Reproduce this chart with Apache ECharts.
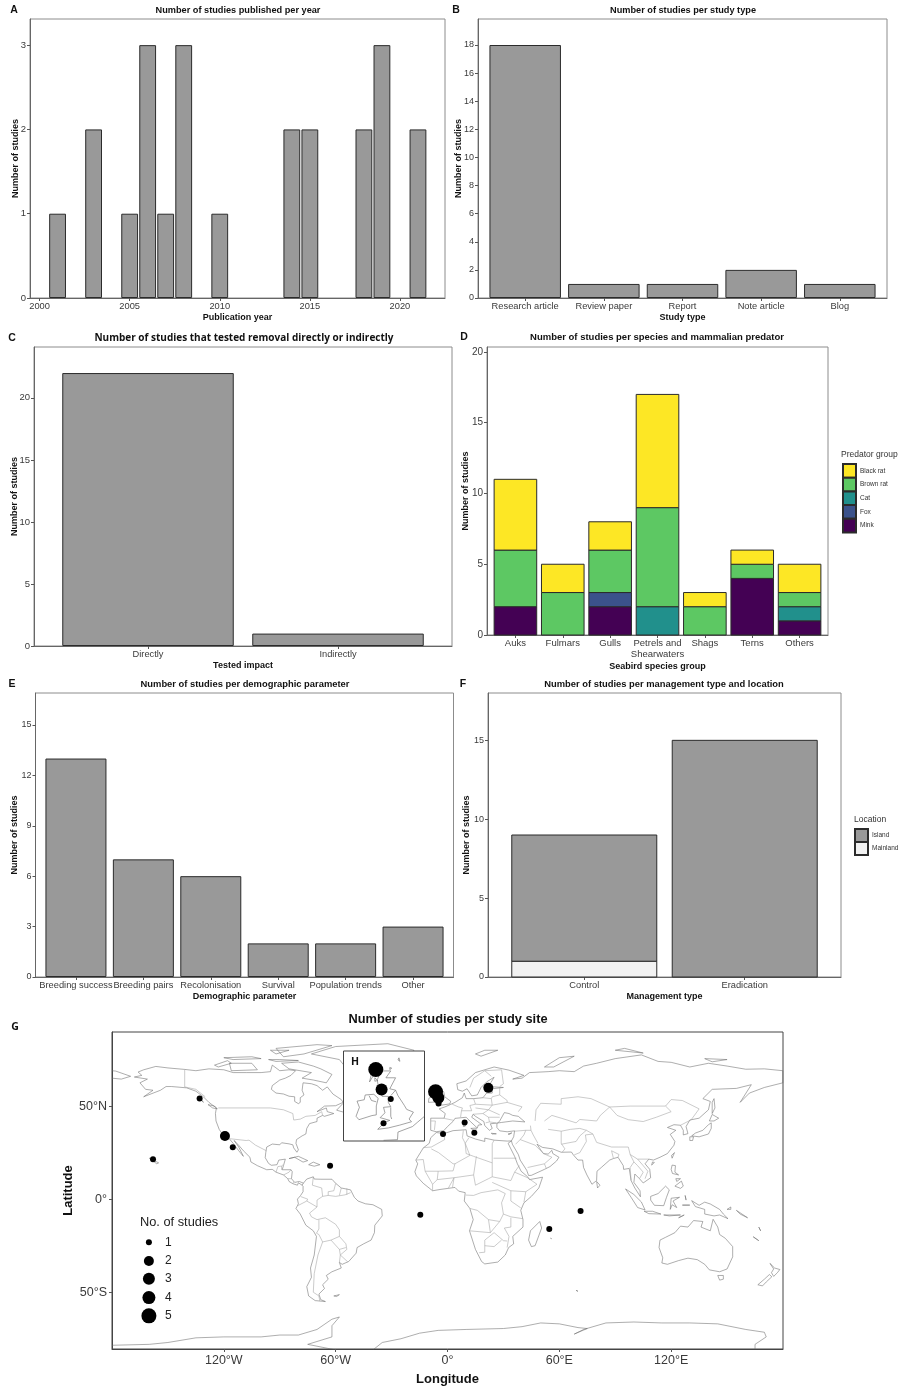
<!DOCTYPE html>
<html><head><meta charset="utf-8">
<script src="https://cdn.jsdelivr.net/npm/echarts@6/dist/echarts.min.js"></script>
<style>html,body{margin:0;padding:0;background:#fff}#c{width:907px;height:1387px}</style>
</head><body><div id="c"></div>
<script>
// ---------- Data ----------
const yearValues = [2001,2003,2005,2006,2007,2008,2010,2014,2015,2018,2019,2021];
const yearCounts = [1,2,1,3,1,3,1,2,2,2,3,2];
const yearTicks = [2000,2005,2010,2015,2020];

const studyTypes = ['Research article','Review paper','Report','Note article','Blog'];
const studyTypeCounts = [18,1,1,2,1];

const testedCats = ['Directly','Indirectly'];
const testedCounts = [22,1];

const seabirdGroups = ['Auks','Fulmars','Gulls','Petrels and\nShearwaters','Shags','Terns','Others'];
const mink = [2,0,2,0,0,4,1];
const fox = [0,0,1,0,0,0,0];
const cat = [0,0,0,2,0,0,1];
const brownRat = [4,3,3,7,2,1,1];
const blackRat = [5,2,2,8,1,1,2];

const demoParams = ['Breeding success','Breeding pairs','Recolonisation','Survival','Population trends','Other'];
const demoCounts = [13,7,6,2,2,3];

const mgmtTypes = ['Control','Eradication'];
const mainland = [1,0];
const island = [8,15];

const siteLon = [-133,-119.4,-115.2,-158,-63,-14.6,-6.4,-4.9,-4.8,-2.4,9.2,14.4,21.9,71.4,54.6];
const siteLat = [54.1,33.9,27.9,21.4,18,-8.4,57.7,54.5,51.4,35,41.2,35.7,59.8,-6.4,-16];
const siteStudies = [1,2,1,1,1,1,5,3,1,1,1,1,2,1,1];

const insetLon = [-6.1,-4.9,-3.0,-4.5];
const insetLat = [58.8,55.9,54.5,51.0];
const insetStudies = [5,3,1,1];

const keyStudies = [1,2,3,4,5];
const keyLon = [-160.2,-160.2,-160.2,-160.2,-160.2];
const keyLat = [-23.2,-33.2,-42.8,-52.9,-62.7];

const coastlines = [
 // North America, north and east coast
 [[-168,65.6],[-164,66.5],[-166,68.3],[-163,69.5],[-156.5,71.3],[-150,70.5],[-141,69.7],[-135,69],[-128,70],[-120,69.5],[-115,68],[-108,68],[-100,68],[-95,68.5],[-94,72],[-90,69],[-85,69.5],[-81.5,69],[-84,66.5],[-87,65],[-90,64],[-94,61],[-94.5,59],[-92,57],[-88,56.5],[-85,55.3],[-82,55],[-82,52.5],[-80,51.3],[-79,52],[-79,54.5],[-77,56],[-78,58.5],[-77.5,62.5],[-73,62],[-70,61],[-67,58.5],[-64.5,60.3],[-61.5,56.5],[-57,53.5],[-56,52],[-60,50.2],[-66,50],[-70,47],[-65,49],[-64.5,47],[-61,46],[-66,44.5],[-67,45],[-70,43.5],[-70,41.7],[-74,40.6],[-75.5,38],[-76,35],[-78,34],[-81,32],[-81.3,30],[-80,26.5],[-80.8,25.2],[-82.5,27.5],[-83,29.2],[-85,29.7],[-89,30.3],[-90,29.2],[-94,29.6],[-97,28],[-97.5,25],[-97.8,22.3],[-96,19.2],[-94.5,18.2],[-91.5,18.5],[-90.5,21],[-87,21.5],[-88,18],[-88.7,15.8],[-84,15.8],[-83.3,14.8],[-83.7,11],[-82,9],[-79.5,9.5],[-77.3,8.6]],
 // North America, west coast
 [[-168,65.6],[-161,64.5],[-165,62.5],[-162,59],[-158,58.5],[-163,55],[-154,58.5],[-151,60.5],[-148,60.5],[-140,59.8],[-135,58],[-131,55],[-128,52],[-124,49],[-124.5,46],[-124.2,42],[-122.5,37.5],[-120.5,34.5],[-117.2,32.6],[-115,30],[-112,26],[-109.5,23],[-112,28],[-114.5,31.5],[-112.5,29.5],[-109.5,26],[-106,22.5],[-105.5,20],[-102,18],[-97,15.8],[-94,16],[-92,14.5],[-88,13],[-85.7,11],[-85,9.5],[-83,8.3],[-80.5,7.5],[-80,8.8],[-78,7.5]],
 // South America
 [[-77.3,8.6],[-75.5,10.8],[-72,12],[-71.5,10.8],[-68,10.7],[-62,10.7],[-60,8.5],[-57,6],[-52,5],[-50,1],[-48,-1],[-44,-2.5],[-40,-3],[-35.3,-5.5],[-35,-9],[-39,-14],[-39.2,-18],[-41,-22],[-45,-24],[-48.5,-26],[-49,-29],[-53,-33.5],[-56.5,-35],[-58,-34],[-57,-37],[-62,-39],[-65,-41],[-64,-43],[-67,-46],[-66,-48],[-69,-51],[-68,-54],[-65.5,-55],[-71,-54.5],[-74.5,-52],[-75.5,-47],[-73,-42],[-73.5,-37],[-71.5,-30],[-70.3,-20],[-72,-17],[-76,-14],[-79,-8],[-81.3,-5],[-80,-2.5],[-80.5,0],[-78.8,2],[-77.5,4],[-77.5,7],[-78,7.5],[-77.3,8.6]],
 // Africa
 [[-6,35.8],[-2,35.2],[3,36.8],[10,37.3],[10.5,34],[15,32.3],[20,31],[20,32.8],[25,31.7],[32,31.2],[34.3,31.3],[32.5,30],[34,27],[36,23],[37.5,19],[39.5,15],[43,12],[44,10.5],[51,11.8],[49,6],[45,1.5],[41,-2],[39.3,-6],[40.5,-11],[40.5,-15],[35,-20],[35.5,-24],[32.8,-26],[31,-30],[27,-33.8],[20,-34.8],[18.3,-33.5],[15,-27],[11.8,-17],[13.8,-11],[12,-5],[9,-1],[9.5,3.5],[6,4.3],[4,6.3],[-4,5.2],[-8,4.5],[-13,8.5],[-16.7,12.5],[-17.5,14.7],[-16,19],[-17,21],[-13,27.5],[-9.8,30],[-9,33],[-6,35.8]],
 // Eurasia
 [[-9,37],[-6,36.2],[-2,36.8],[0,39],[3,41.8],[4,43.4],[7,43.7],[10,44],[12.5,41.5],[16,38.2],[16.5,39.8],[18.4,40],[16,41.8],[13,44],[13.7,45.6],[15,44.5],[19.5,41.7],[20,39.5],[22.5,37],[24,38],[23,40.5],[26,40.8],[29,41.2],[35,42],[41.5,41.5],[38,44.5],[35,45],[33,46],[30.5,46.5],[28,42],[26.5,40.5],[26.5,38.5],[28,36.7],[32,36.2],[36,36.7],[35.5,33.5],[34.3,31.3],[34.8,29.5],[38,24],[39,21],[42.5,15.5],[43.5,12.7],[45,12.8],[52,16],[55,17.5],[58.5,20.5],[59.8,22.5],[56.5,24.5],[56,26.2],[54,24.2],[51.5,24.5],[50,26.5],[48,29.5],[51,27.8],[56.5,27],[61,25.2],[66.5,25.3],[67.5,23.8],[70,21],[72.5,21],[73,17],[74.8,13],[77.5,8],[80,10],[80.2,15],[82.5,17],[87,21],[89,21.8],[91.5,22.5],[94.3,18],[94.5,16],[97.5,16.5],[98.5,10],[100.5,6],[103.5,1.3],[103.3,4.5],[100,9],[100.5,13.5],[103,11],[105,8.7],[109,11.5],[108.5,16],[106,19],[108,21.5],[110.5,21],[114,22.5],[118,24.5],[121.5,29],[122,31],[119.5,34.8],[122.5,37],[118,38.5],[121.5,40],[125,39.7],[126.5,37],[126.5,34.5],[129,35.2],[128,39],[130,42.5],[135,43.5],[140,48],[141,52.5],[137,54],[142,59],[155,59.5],[163,61.5],[157,52],[162,57],[170,60],[179.9,62.5]],
 [[179.9,69],[170,70],[160,69.8],[150,71.5],[140,73],[130,71],[120,73.5],[113,74],[104,77.5],[90,75.5],[80,73],[73,71.5],[68,68.5],[60,69],[54,68.5],[44,68],[40,65],[35,64.5],[41,66.5],[33,69.3],[25,71],[15,68],[10,63.5],[5,62],[5.5,58.8],[8,58],[10.5,59.3],[13,55.5],[16,56],[18,60],[21,63],[25,65.5],[22,60.5],[30,60],[24,59.3],[24,57],[21,57],[19,54.5],[14,54],[10,54],[9,57],[8,54.5],[4,52],[1.5,50.8],[-1.5,49.5],[-4.5,48.5],[-1.2,46],[-1.8,43.5],[-9,43.5],[-9,37]],
 [[-180,65],[-175,64.5],[-170,66],[-178,68.8],[-180,69]],
 [[179.9,62.5],[179.9,65],[179.9,69]],
 // Australia and Pacific
 [[114,-22],[113.5,-26],[115.5,-31.5],[115,-34.3],[118,-35],[124,-33],[129,-31.7],[134,-32.5],[138,-35],[140.5,-38],[146,-39],[150,-37.5],[153,-31],[153,-25.5],[149,-21],[146,-19],[145,-15],[142.5,-10.8],[141,-17],[136,-15],[137,-12],[132,-11.5],[129,-15],[125,-14.5],[122,-18],[117,-20.5],[114,-22]],
 [[145,-41],[148,-41],[148,-43],[146,-43.5],[145,-41]],
 [[173,-34.5],[175.5,-37],[178.3,-37.8],[177,-39.5],[175,-41.5],[173.8,-39.5],[175,-37.5],[173,-34.5]],
 [[172.7,-40.5],[174,-41.7],[171,-44.5],[169,-46.6],[166.5,-46],[170,-43],[172.7,-40.5]],
 [[131,-0.8],[135,-3.3],[138,-1.6],[141,-2.6],[146,-5.5],[148,-8],[150.5,-10.5],[146,-8.5],[143,-9],[138,-8],[138,-5.5],[133,-4],[131,-0.8]],
 [[150,-5.5],[152,-4.2],[152,-5.5],[150,-5.5]],[[155,-6],[157,-8],[161,-10],[155,-6]],[[167,-15],[168,-17],[167,-15]],[[164,-20.2],[167,-22.3],[164,-20.2]],
 // Asian islands
 [[95.5,5.5],[100,2.5],[104,-1.5],[106,-5.8],[102,-4.5],[98.5,1],[95.5,5.5]],
 [[105.5,-6.5],[110,-6.5],[114.5,-8],[108,-7.8],[105.5,-6.5]],
 [[116,-8.5],[120,-8.5],[125,-8.5],[119,-9],[116,-8.5]],[[124,-10],[127,-8.5],[124,-10]],
 [[109,1.5],[113,3],[117,7],[119,5],[117.5,1],[116,-3.5],[111,-3.3],[109,-0.5],[109,1.5]],
 [[119.5,-5.5],[120,0.5],[124.5,1],[121,-1],[123,-4.5],[120.5,-3],[119.5,-5.5]],
 [[127.5,2],[128,-0.5],[127.5,2]],[[126,-3.2],[130,-3.2],[126,-3.2]],
 [[120.5,18.3],[122.3,18],[122,14.5],[124,13],[120.7,13.8],[120,16],[120.5,18.3]],
 [[122,7],[125.5,9.7],[126.5,7],[125,5.8],[122,7]],[[122.5,11],[125,11],[123,9.5],[122.5,11]],
 [[120.5,22],[121.8,25],[120.2,23.5],[120.5,22]],
 [[130,31.5],[131.5,31.5],[132,33.5],[130,33.5],[130,31.5]],
 [[131,34],[135,33.5],[140,35],[141.5,38],[141.5,41],[140,40],[137,37],[133,35.5],[131,34]],
 [[140.5,42],[143,42],[145.5,43.5],[142,45.5],[140.5,42]],
 [[142,46],[143.5,49],[143,54],[142,52],[142,46]],
 [[80,9.5],[81.8,7.5],[80.5,6],[80,9.5]],
 [[110,20],[111,19.7],[109.5,18.3],[110,20]],
 [[49.5,-12],[50.5,-15.5],[47,-25],[45,-25.5],[43.5,-22],[44.5,-17],[49.5,-12]],
 [[55.3,-21],[55.8,-21.2],[55.3,-21]],[[69,-49],[70,-49.5],[69,-49]],
 // Europe, Atlantic and Arctic islands
 [[-24,65.5],[-15,66.2],[-14,64.8],[-20,63.5],[-22.5,64],[-24,65.5]],
 [[-5.7,50.1],[1.3,51.2],[1.7,52.6],[-1.5,55],[-2,57.6],[-3,58.6],[-5,58.6],[-5,55.5],[-3,53.4],[-5.2,51.8],[-5.7,50.1]],
 [[-6,52.2],[-5.6,54.6],[-8.3,55.1],[-10,54.2],[-10.2,52],[-6,52.2]],
 [[15,78],[20,80],[27,80],[18,76.8],[15,78]],
 [[52,71],[57,71],[68,76.8],[60,76],[52,71]],
 [[90,80],[100,79],[105,78.5],[95,81],[90,80]],[[138,75.5],[150,75],[142,73.8],[138,75.5]],
 [[8.5,41],[9.7,40.5],[9.5,39.2],[8.5,39],[8.5,41]],
 [[12.5,38],[15.5,38.2],[15,36.7],[12.5,38]],
 [[23.5,35.4],[26.2,35.1],[24,35],[23.5,35.4]],
 [[32.5,35],[34.5,35.6],[33,34.7],[32.5,35]],
 // Caribbean and Atlantic Canada
 [[-85,21.8],[-80,23],[-75,20.7],[-77.5,19.9],[-82,22.5],[-85,21.8]],
 [[-74.5,18.5],[-72,19.9],[-68.5,18.5],[-71.5,17.7],[-74.5,18.5]],
 [[-59.5,47.8],[-56,51.5],[-53,47],[-56,46.8],[-59.5,47.8]],
 [[-128.5,50.8],[-125,50],[-123.5,48.5],[-126,49],[-128.5,50.8]],
 [[-133,54],[-131.5,53],[-131,52],[-133,54]],
 [[-61,-52],[-58,-51.3],[-59.5,-52.3],[-61,-52]],
 [[-160,22],[-155,19.5],[-156,19],[-160,22]],
 // Canadian Arctic
 [[-80,73.7],[-72,71.5],[-68,70],[-62,67],[-65,62.5],[-72,64],[-78,65],[-73,68],[-85,70],[-89,73],[-80,73.7]],
 [[-117,73],[-105,73],[-102,69.5],[-116,69],[-117,73]],
 [[-125,72],[-118,74.4],[-116,73],[-123,71],[-125,72]],
 [[-92,81],[-70,83],[-62,82.5],[-77,78],[-88,76.5],[-92,81]],
 [[-96,75],[-90,75],[-80,74.5],[-92,74],[-96,75]],
 [[-120,76],[-105,76.5],[-100,75.5],[-115,75],[-120,76]],
 [[-95,80],[-85,80],[-92,78],[-95,80]],
 // Greenland
 [[-73,78],[-60,82],[-32,83.5],[-18,80],[-22,72],[-32,68],[-42,65],[-44,60],[-51,63],[-54,70],[-58,75],[-73,78]],
 // Antarctica
 [[-180,-78.5],[-160,-78],[-150,-77],[-135,-74.5],[-120,-74],[-100,-74],[-90,-73],[-80,-73],[-70,-70],[-62,-64.5],[-58,-63.3],[-62,-68],[-62,-74],[-75,-78],[-60,-81]],
 [[-40,-81],[-35,-77],[-25,-75],[-15,-72],[-5,-70.5],[10,-70],[30,-69.5],[40,-68.5],[50,-66.5],[60,-67],[70,-69],[75,-69.5],[68,-72.5],[73,-70],[85,-66.5],[100,-66],[115,-66.5],[130,-66.5],[145,-67],[160,-70],[170,-71.5],[171,-74],[165,-78],[165,-81]],
];

const borders = [
 [[-141,69.7],[-141,60.3],[-135,59],[-130,55]],
 [[-123,49],[-95,49],[-88,48],[-83,46],[-82.5,42.5],[-79,43],[-76,44.5],[-71,45],[-67.5,47],[-67,45]],
 [[-117,32.5],[-108,31.5],[-106.5,31.7],[-103,29],[-97.2,26]],
 [[-92,14.5],[-91,17.5],[-89,17.8],[-88.2,18.5]],
 [[-89,17.8],[-89,15.8]],[[-88,13],[-85,14.5],[-84,15.8]],[[-85.7,11],[-83.7,11]],[[-83,8.3],[-82.5,9.5]],
 [[-72,12],[-72.5,7.5],[-67.5,6],[-67,1.5]],
 [[-60,8.5],[-61,4.5],[-64,4],[-64,2]],
 [[-52,3.5],[-55,2.3],[-60,1.5],[-64,2],[-67,1.5],[-70,-0.5],[-70,-4.2],[-74,-7.5],[-73,-9.5],[-70,-11],[-65.5,-10],[-60,-13.5],[-58,-16.5],[-58,-20],[-54.5,-24],[-54,-27],[-57.5,-30],[-53.5,-33.7]],
 [[-80.3,-3.5],[-75.5,-1],[-70,-4.2]],[[-78.8,1.4],[-75,0],[-75.5,-1]],
 [[-69,-11],[-69,-16],[-70.3,-18.3],[-69,-19],[-67,-23],[-69.5,-30],[-71.5,-40],[-72,-50],[-69,-52],[-68.5,-54.8]],
 [[-67,-23],[-62.5,-22],[-58,-20]],[[-62.5,-22],[-58,-27],[-54.5,-26]],[[-58,-27],[-57.5,-30],[-58,-34]],
 [[-57,6],[-58,2]],[[-54,2.3],[-54,5.8]],
 [[-2,35],[-1.5,32],[-8.7,28],[-13,27.7]],
 [[-8.7,27],[-4.8,25],[3,19],[4,19],[12,23.5],[9.5,30],[8,33],[8.5,36.9]],
 [[11.5,33],[9.5,30],[10,24.5],[14,23],[24,19.5],[24,29.8],[25,31.7]],
 [[24.7,22],[37,22]],
 [[24,19.5],[24,12],[22,11],[15,7.5],[14,13],[15.5,23]],
 [[3.5,11.5],[14,13]],[[2.7,6.3],[3.5,11.5]],
 [[-12,15],[-5,15],[3,15.2],[4,19]],[[-17,21],[-13,21.3],[-12,15]],
 [[-5.5,10.5],[-5,15]],[[-8,8],[-5.5,10.5],[3.5,11.5],[0.5,6]],[[-8,4.5],[-8,8],[-12,15]],
 [[24,12],[34,10],[36,14.5],[38.5,18]],[[24,9],[34,4.5],[42,4]],
 [[36,14.5],[43,11.5],[48,8],[42,4],[41,-1.7]],
 [[12,-5],[16,-6],[22,-11],[28,-12],[30,-8],[29,-2],[31,3],[27,5],[18,3.5],[14,2],[9.8,2.2]],
 [[34,4.5],[34,-1],[39.3,-4.7]],[[30,-8],[34,-9.5],[40.5,-10.5]],
 [[11.8,-17],[23,-18],[22,-11]],[[17,-28.8],[20,-28.5],[20,-22],[25,-18]],
 [[34,-10],[34,-15],[30.5,-15.5],[33,-20],[32,-26]],[[25,-18],[30,-22.3],[32,-22.5]],[[20,-25],[25,-25.5],[29,-22]],[[23,-18],[28,-12]],
 [[47,42],[47.5,48],[50,51.5],[61,51],[61,54],[70,55],[77,54],[87,49.5],[98,50],[107,50],[117,50],[120,53.5],[126,53],[135,48.5],[131,43],[130.5,42.5]],
 [[87,49.5],[91,45],[97,42.7],[105,41.7],[112,44],[120,47],[117,50]],
 [[52,42],[56,45],[61,43.5],[69,41],[71,42.8],[80,42],[82,45],[87,49.5]],
 [[44.5,39.5],[44.8,37],[46,34.5],[48.5,30]],[[36,36.5],[42,37],[44.8,37]],[[42,37],[41,34.5],[39,32],[47,29]],
 [[36.5,29.5],[39,32]],[[47,29],[51.5,24.5],[56,22.5],[52,19],[53,16.5]],[[43,17],[52,19]],
 [[54,37.5],[61,36.5],[61,30],[63,27],[61.5,25.2]],
 [[61,36.5],[66,37.5],[71,38],[74.5,37],[71,34],[69,31],[61,29.5]],
 [[68,23.8],[71,25],[74.5,31],[74,34.5],[78,35]],
 [[74.5,37],[78,35],[80,30.5],[88,28],[92,28],[97,28],[98,24],[102,21.5],[108,21.5]],
 [[98,24],[100,20],[98,17],[98.5,10]],[[100,20],[102,18],[105,14.5],[103,11]],[[102,21.5],[105,18],[107.5,15],[106,11]],
 [[88,26],[89,22]],[[88,26],[92,24],[91.5,22.5]],[[125,39.7],[130.5,42.5]],
 [[-1.8,43.4],[3,42.4]],[[-8.8,42],[-6.5,42],[-7,37.2]],
 [[2.5,51],[6,49.5],[8,49],[7.5,47.5],[7,44]],[[14,54],[15,51],[12,50.3],[13,47.5],[7.5,47.5]],
 [[19,54.5],[23.5,54],[24,50.5],[15,51]],[[24,50.5],[22,48],[28,45.3]],[[24,50.5],[32,52],[40,49.6],[38,47]],
 [[28,60],[28,56],[24,55],[23.5,54]],[[28,56],[32,53],[32,52]],
 [[23.5,66],[20,69],[29,69.5],[30,62],[28,60.5]],[[12,60],[14,65],[20,69]],
 [[13.7,45.6],[19,46],[22,44],[28,44]],[[22,44],[22.5,41.5],[20.5,41]],[[26,41],[22.5,41.5]],[[22,48],[19,46]],[[15,49],[22,48]],
];

const insetCoast = [
 [[-5.7,50.1],[-3.5,50.3],[-1.2,50.7],[1.3,51.2],[0.8,51.6],[1.7,52.6],[0.3,53],[-0.2,53.6],[-1.5,55],[-2,55.8],[-3.2,56],[-2,57.6],[-4,57.6],[-3,58.6],[-5,58.6],[-5.8,57.3],[-5.5,56],[-5,55.5],[-4.8,54.9],[-3.5,54.9],[-3.5,54],[-3,53.4],[-4.5,53.3],[-4.2,52.5],[-5.2,51.8],[-3.2,51.4],[-4.3,51.1],[-5.7,50.1]],
 [[-6,52.2],[-6,53.5],[-5.6,54.6],[-6.5,55.2],[-8.3,55.1],[-8.5,54.4],[-10,54.2],[-9.5,53.3],[-10.2,52],[-9.6,51.5],[-6.9,52.1],[-6,52.2]],
 [[-7.5,55],[-7,54.3],[-6,54.1]],[[-3,53.3],[-3,52],[-2.8,51.6]],[[-3,55],[-2,55.8]],
 [[-7.4,57],[-6.2,58.4],[-7,58.2],[-7.4,57]],[[-6.3,57.6],[-5.7,57.2],[-6.3,57.1],[-6.3,57.6]],
 [[-3.2,59.1],[-2.8,59],[-3.2,58.8],[-3.2,59.1]],[[-1.3,60.5],[-1.1,60],[-1.5,60.2],[-1.3,60.5]],
 [[-4.5,48.5],[-1.6,48.6],[-1.5,49.7],[1.5,50.5],[2.5,51.1],[4,52]],
];

// ---------- Look ----------
const barFill = '#999999';
const barEdge = '#2b2b2b';
const sans = '"Liberation Sans", Arial, sans-serif';
const pxBySize = {1:6,2:10,3:12,4:13,5:15};
const labelCol = '#3a3a3a';

const tickStyle = {show:true,length:3,lineStyle:{color:'#555',width:1}};

function xAxisFor(gi,opt){
  return {gridIndex:gi,type:'value',min:opt.min,max:opt.max,
    name:opt.name,nameLocation:'middle',nameGap:opt.nameGap||15,nameMoveOverlap:false,
    nameTextStyle:{fontFamily:sans,fontWeight:'bold',fontSize:opt.nameSize||9,color:'#111'},
    splitLine:{show:false},
    axisLine:{show:true,onZero:false,lineStyle:{color:'#666',width:1}},
    axisTick:Object.assign({},tickStyle,{customValues:opt.ticks}),
    axisLabel:{customValues:opt.ticks,formatter:opt.fmt,margin:opt.margin||3,lineHeight:opt.lh||11,
      fontFamily:sans,fontSize:opt.size||9.3,color:labelCol,hideOverlap:false,showMinLabel:true,showMaxLabel:true}};
}
function yAxisFor(gi,opt){
  return {gridIndex:gi,type:'value',min:opt.min||0,max:opt.max,
    name:opt.name===undefined?'Number of studies':opt.name,nameLocation:'middle',nameGap:opt.nameGap,nameMoveOverlap:false,
    nameTextStyle:{fontFamily:sans,fontWeight:'bold',fontSize:opt.nameSize||9,color:'#111'},
    splitLine:{show:false},
    axisLine:{show:true,onZero:false,lineStyle:{color:'#666',width:1}},
    axisTick:Object.assign({},tickStyle,{customValues:opt.ticks}),
    axisLabel:{customValues:opt.ticks,formatter:opt.fmt,margin:opt.margin||4,fontFamily:sans,fontSize:opt.size||9.5,color:labelCol,showMinLabel:true,showMaxLabel:true}};
}
function gridBox(l,t,r,b){return {left:l,top:t,width:r-l,height:b-t,show:true,borderColor:'#8c8c8c',borderWidth:1,backgroundColor:'#fff'};}
function barSeries(gi,name,xs,ys,w,fill){
  return {type:'bar',name:name,xAxisIndex:gi,yAxisIndex:gi,barWidth:w,silent:true,
    data:xs.map((x,i)=>[x,ys[i]]),itemStyle:{color:fill,borderColor:barEdge,borderWidth:1}};
}
// Stacked bars on a numeric band axis: each segment is [position, base, top]
function stackedLayers(gi,xs,layers,w){
  const base=xs.map(()=>0);
  return layers.map(l=>{
    const data=xs.map((x,i)=>{const d=[x,base[i],base[i]+l.values[i]];base[i]+=l.values[i];return d;});
    return {type:'custom',name:l.name,xAxisIndex:gi,yAxisIndex:gi,silent:true,data:data,encode:{x:0,y:[1,2]},
      itemStyle:{color:l.fill,borderColor:barEdge,borderWidth:1},
      renderItem:(p,api)=>{
        const x=api.value(0),lo=api.value(1),hi=api.value(2);
        if(hi<=lo) return null;
        const a=api.coord([x,lo]),b=api.coord([x,hi]);
        return {type:'rect',shape:{x:a[0]-w/2,y:b[1],width:w,height:a[1]-b[1]},
          style:{fill:l.fill,stroke:barEdge,lineWidth:1}};
      }};
  });
}
const idx = arr => arr.map((_,i)=>i+1);
const catFmt = arr => v => arr[Math.round(v)-1] || '';
function txt(text,x,y,size,opts){
  opts=opts||{};
  return {text:text,left:x,top:y,padding:0,textAlign:opts.align||'center',textVerticalAlign:'middle',
    textStyle:{fontFamily:opts.font||sans,fontWeight:opts.weight||'bold',fontSize:size,color:opts.color||'#111'}};
}

const grids=[gridBox(30,19,445,298),gridBox(478,19,887,298),gridBox(34,347,452,646),gridBox(487,347,828,635),gridBox(35.5,693,453.5,977),gridBox(488,693,841,977),
  {left:112,top:1032,width:671,height:318,show:true,borderColor:'#444',borderWidth:1,backgroundColor:'#fff'},
  {left:343.5,top:1051,width:81,height:90,show:true,borderColor:'#444',borderWidth:1,backgroundColor:'#fff',z:10}];

const xAxes=[
  xAxisFor(0,{min:1999.47,max:2022.5,ticks:yearTicks,name:'Publication year',fmt:v=>String(v)}),
  xAxisFor(1,{min:0.4,max:5.6,ticks:idx(studyTypes),name:'Study type',fmt:catFmt(studyTypes)}),
  xAxisFor(2,{min:0.4,max:2.6,ticks:idx(testedCats),name:'Tested impact',fmt:catFmt(testedCats)}),
  xAxisFor(3,{min:0.4,max:7.6,ticks:idx(seabirdGroups),name:'Seabird species group',nameGap:27,fmt:catFmt(seabirdGroups),size:9.5}),
  xAxisFor(4,{min:0.4,max:6.6,ticks:idx(demoParams),name:'Demographic parameter',fmt:catFmt(demoParams)}),
  xAxisFor(5,{min:0.4,max:2.6,ticks:idx(mgmtTypes),name:'Management type',fmt:catFmt(mgmtTypes)}),
  xAxisFor(6,{min:-180,max:180,ticks:[-120,-60,0,60,120],name:'Longitude',nameGap:24,nameSize:13,size:12.5,margin:6,
     fmt:v=>v===0?'0°':(Math.abs(v)+'°'+(v<0?'W':'E'))}),
  {gridIndex:7,type:'value',min:-12.8,max:4,show:false,z:11},
];
xAxes[6].axisLine.lineStyle.color='#444';
const yAxes=[
  yAxisFor(0,{max:3.31,ticks:[0,1,2,3],nameGap:10}),
  yAxisFor(1,{max:19.85,ticks:[0,2,4,6,8,10,12,14,16,18],nameGap:15,size:9}),
  yAxisFor(2,{max:24.1,ticks:[0,5,10,15,20],nameGap:15}),
  yAxisFor(3,{max:20.35,ticks:[0,5,10,15,20],nameGap:17,size:10}),
  yAxisFor(4,{max:16.9,ticks:[0,3,6,9,12,15],nameGap:16.5,size:9}),
  yAxisFor(5,{max:18,ticks:[0,5,10,15],nameGap:17,size:9}),
  yAxisFor(6,{min:-80.5,max:89.8,ticks:[-50,0,50],name:'Latitude',nameGap:37,nameSize:13,size:12.5,margin:5,fmt:v=>v===0?'0°':(Math.abs(v)+'°'+(v<0?'S':'N'))}),
  {gridIndex:7,type:'value',min:48.4,max:61.5,show:false,z:11},
];
yAxes[6].axisLine.lineStyle.color='#444';

const siteSeries=(gi,lon,lat,studies,z)=>({type:'scatter',xAxisIndex:gi,yAxisIndex:gi,silent:true,z:z,
  data:lon.map((v,i)=>[v,lat[i],studies[i]]),symbolSize:d=>pxBySize[d[2]],itemStyle:{color:'#000',opacity:1}});

const keySeries=siteSeries(6,keyLon,keyLat,keyStudies,4);
keySeries.data=keySeries.data.map(d=>({value:d,label:{distance:16-pxBySize[d[2]]/2}}));
keySeries.label={show:true,position:'right',formatter:p=>String(p.value[2]),fontFamily:sans,fontSize:12,color:'#222'};

const series=[
  barSeries(0,'years',yearValues,yearCounts,16.8,barFill),
  barSeries(1,'types',idx(studyTypes),studyTypeCounts,71.5,barFill),
  barSeries(2,'tested',idx(testedCats),testedCounts,171.5,barFill),
  ...stackedLayers(3,idx(seabirdGroups),[
    {name:'Mink',values:mink,fill:'#440154'},
    {name:'Fox',values:fox,fill:'#3b528b'},
    {name:'Cat',values:cat,fill:'#21908c'},
    {name:'Brown rat',values:brownRat,fill:'#5dc863'},
    {name:'Black rat',values:blackRat,fill:'#fde725'}],42.6),
  barSeries(4,'demo',idx(demoParams),demoCounts,61,barFill),
  ...stackedLayers(5,idx(mgmtTypes),[
    {name:'Mainland',values:mainland,fill:'#f2f2f2'},
    {name:'Island',values:island,fill:barFill}],145),
  {type:'lines',coordinateSystem:'cartesian2d',xAxisIndex:6,yAxisIndex:6,polyline:true,silent:true,z:2,
    lineStyle:{color:'#6a6a6a',width:0.55,opacity:1},data:coastlines.map(c=>({coords:c}))},
  {type:'lines',coordinateSystem:'cartesian2d',xAxisIndex:6,yAxisIndex:6,polyline:true,silent:true,z:2,
    lineStyle:{color:'#a0a0a0',width:0.55,opacity:1},data:borders.map(c=>({coords:c}))},
  siteSeries(6,siteLon,siteLat,siteStudies,4),
  keySeries,
  {type:'lines',coordinateSystem:'cartesian2d',xAxisIndex:7,yAxisIndex:7,polyline:true,silent:true,z:11,
    lineStyle:{color:'#666',width:0.6,opacity:1},data:insetCoast.map(c=>({coords:c}))},
  siteSeries(7,insetLon,insetLat,insetStudies,12),
];

const titles=[
  txt('A',14,10,10.5),txt('Number of studies published per year',238,10,9.2),
  txt('B',456,10,10.5),txt('Number of studies per study type',683,10,9.2),
  txt('C',12,338,10.5),txt('Number of studies that tested removal directly or indirectly',244,338,10,{font:'"Open Sans", sans-serif'}),
  txt('D',464,337,10.5),txt('Number of studies per species and mammalian predator',657,337,9.5),
  txt('E',12,684,10.5),txt('Number of studies per demographic parameter',245,684,9.4),
  txt('F',463,684,10.5),txt('Number of studies per management type and location',664,684,9.4),
  txt('G',15,1027,10.5,{font:'"Open Sans", sans-serif'}),txt('Number of studies per study site',448,1019,12.8),
  {...txt('H',355,1062,10.5,{font:'"Open Sans", sans-serif'}),z:20},
  txt('Predator group',841,455,8.5,{align:'left',weight:'normal',color:'#333'}),
  txt('Location',854,820,8.5,{align:'left',weight:'normal',color:'#333'}),
  txt('No. of studies',140,1222,12.8,{align:'left',weight:'normal',color:'#222'}),
];
const legends=[
  {left:842,top:463,orient:'vertical',itemWidth:13,itemHeight:13.7,itemGap:-2,padding:0,selectedMode:false,icon:'rect',
    data:['Black rat','Brown rat','Cat','Fox','Mink'],textStyle:{fontFamily:sans,fontSize:6.5,color:'#333',padding:[0,0,0,-1]}},
  {left:854,top:828,orient:'vertical',itemWidth:13,itemHeight:13,itemGap:-2,padding:0,selectedMode:false,icon:'rect',
    data:['Island','Mainland'],textStyle:{fontFamily:sans,fontSize:6.5,color:'#333',padding:[0,0,0,-1]}},
];
const chart=echarts.init(document.getElementById('c'),null,{renderer:'canvas'});
chart.setOption({animation:false,backgroundColor:'#fff',grid:grids,xAxis:xAxes,yAxis:yAxes,series:series,title:titles,legend:legends});
</script></body></html>
